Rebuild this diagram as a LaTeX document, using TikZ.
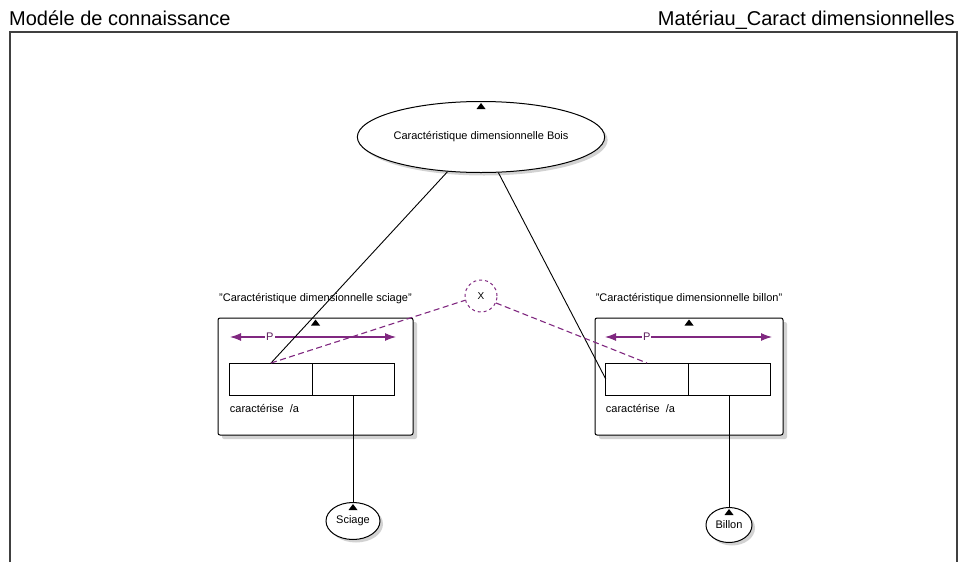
\documentclass[tikz,border=0pt]{standalone}
\usepackage{fontspec}
\setmainfont{Liberation Sans}
\usepackage{xcolor}
\usepackage{tikz}
\usetikzlibrary{shapes.geometric,arrows.meta,positioning,calc,shadows}

\definecolor{linkviolet}{RGB}{128,40,128}
\newcommand{\upmarker}[1]{\fill ($(#1.north)+(-4.5,8)$) -- ++(9,0) -- ++(-4.5,-6) -- cycle;}

\begin{document}
\begin{tikzpicture}[x=1pt, y=-1pt,
  ttl/.style={font=\fontsize{20}{24}\selectfont, inner sep=0pt},
  cls/.style={ellipse, draw=black, line width=1pt, fill=white,
              font=\fontsize{11}{12}\selectfont, inner sep=0pt,
              drop shadow={shadow xshift=3pt, shadow yshift=-3pt, fill=black!35}},
  box/.style={rectangle, draw=black, line width=1pt, rounded corners=2pt, fill=white,
              minimum height=117pt,
              drop shadow={shadow xshift=4pt, shadow yshift=-4pt, fill=black!35}},
  cell/.style={rectangle, draw=black, line width=1pt, minimum width=82.5pt,
               minimum height=32pt, outer sep=0pt, inner sep=0pt},
  lbl/.style={font=\fontsize{11}{12}\selectfont, inner sep=1pt},
  note/.style={font=\fontsize{11}{12}\selectfont, inner sep=0pt},
  prop/.style={draw=linkviolet, line width=1.1pt,
               {Latex[length=11pt,width=8pt]}-{Latex[length=11pt,width=8pt]}},
  plbl/.style={font=\fontsize{11}{12}\selectfont, text=linkviolet!70!black, fill=white, inner sep=1pt},
  xnode/.style={circle, draw=linkviolet, dashed, line width=1pt, minimum size=32pt,
                inner sep=0pt, font=\fontsize{10}{11}\selectfont},
  link/.style={draw=black, line width=0.9pt},
  assoc/.style={draw=linkviolet, line width=1.1pt, dash pattern=on 6pt off 3.5pt},
]
\useasboundingbox (0,0) rectangle (960,562);

% Frame and titles
\draw[line width=1.4pt, black!75] (10,562) -- (10,32) -- (957,32) -- (957,562);
\node[ttl, anchor=base west] (T1) at (9,25) {Modéle de connaissance};
\node[ttl, anchor=base east] (T2) at (955,25) {Matériau\_Caract dimensionnelles};

% Classes
\node[cls, minimum width=218pt, minimum height=71pt] (CB) at (481,137) {Caractéristique dimensionnelle Bois};
\node[box, minimum width=195pt] (CS) at (315.5,376.5) {};
\node[box, minimum width=188pt] (CBi) at (689,376.5) {};
\node[cls, minimum width=54pt, minimum height=37pt] (SC) at (353,521) {Sciage};
\node[cls, minimum width=46pt, minimum height=35pt] (BI) at (729,525) {Billon};

% Class names
\node[lbl, above=13pt of CS] (NS) {"Caractéristique dimensionnelle sciage"};
\node[lbl, above=13pt of CBi] (NB) {"Caractéristique dimensionnelle billon"};

% Roles
\node[cell] (L1) at (271,379) {};
\node[cell] (L2) at (353.5,379) {};
\node[cell] (R1) at (647,379) {};
\node[cell] (R2) at (729.5,379) {};
\node[note, anchor=west] (AS) at ($(L1.south west)+(0,13)$) {caractérise\ \ /a};
\node[note, anchor=west] (AB) at ($(R1.south west)+(0,13)$) {caractérise\ \ /a};

% Properties
\coordinate (PS1) at (230,337);
\coordinate (PS2) at (396,337);
\coordinate (PB1) at (605,337);
\coordinate (PB2) at (772,337);
\draw[prop] (PS1) -- node[plbl, pos=0.24] (PS) {P} (PS2);
\draw[prop] (PB1) -- node[plbl, pos=0.25] (PB) {P} (PB2);

% Exclusion
\node[xnode] (X) at (481,296) {X};

% Links
\draw[link] (CB.226) -- (L1.north);
\draw[link] (CB.296) -- (R1.west);
\draw[link] (L2.south) -- (L2.south |- SC.north);
\draw[link] (R2.south) -- (R2.south |- BI.north);
\draw[assoc] (L1.north) -- (X.195);
\draw[assoc] (X.-25) -- (R1.north);

% Markers
\upmarker{CB}
\upmarker{CS}
\upmarker{CBi}
\upmarker{SC}
\upmarker{BI}
\end{tikzpicture}
\end{document}
